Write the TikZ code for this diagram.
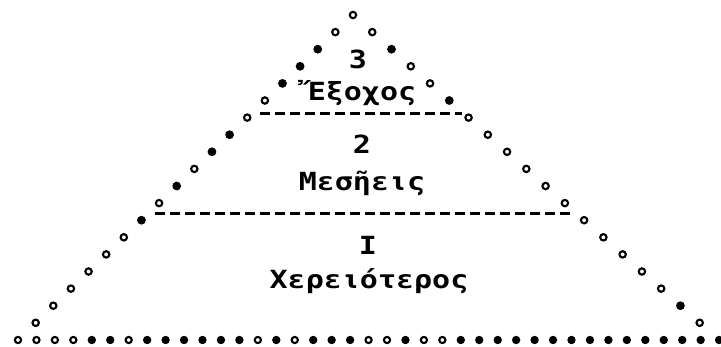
\documentclass[tikz,border=0pt]{standalone}
\usepackage{fontspec}
\newfontfamily\tw{DejaVu Sans Mono Bold}
\newcommand{\tws}[1]{\scalebox{1.2}[1]{#1}}
\begin{document}
\begin{tikzpicture}[x=1pt,y=-1pt,
  ringdot/.style={line width=2.1pt},
  lbl/.style={font=\tw\fontsize{25}{25}\selectfont, inner sep=0pt, anchor=base},
  sepline/.style={line width=3pt, dash pattern=on 10pt off 5pt}]
\useasboundingbox (0,0) rectangle (721,346);
% left side (apex included)
\foreach \f [count=\k from 0] in {0,0,1,1,1,0,0,1,1,0,1,0,1,0,0,0,0,0,0} {
  \pgfmathsetmacro\xx{353-17.63*\k}
  \pgfmathsetmacro\yy{15+17.1*\k}
  \ifnum\f=1 \fill (\xx,\yy) circle (4.4pt); \else \draw[ringdot] (\xx,\yy) circle (3.2pt); \fi
}
% right side
\foreach \f [count=\k from 1] in {0,1,0,0,1,0,0,0,0,0,0,0,0,0,0,0,1,0} {
  \pgfmathsetmacro\xx{353+19.26*\k}
  \pgfmathsetmacro\yy{15+17.1*\k}
  \ifnum\f=1 \fill (\xx,\yy) circle (4.4pt); \else \draw[ringdot] (\xx,\yy) circle (3.2pt); \fi
}
% base
\foreach \f [count=\k from 0] in {0,0,0,0,1,1,0,1,1,1,1,1,1,0,1,0,1,1,1,0,0,1,0,0,1,1,1,1,1,1,1,1,1,1,1,1,1,1,1} {
  \pgfmathsetmacro\xx{18+18.45*\k}
  \ifnum\f=1 \fill (\xx,340) circle (4.2pt); \else \draw[ringdot] (\xx,340) circle (3.1pt); \fi
}
% separators
\coordinate (a1) at (260,113);
\coordinate (b1) at (462,113);
\coordinate (a2) at (155,213);
\coordinate (b2) at (572,213);
\draw[sepline] (a1) -- (b1);
\draw[sepline] (a2) -- (b2);
% labels
\node[lbl] (n3) at (358,68) {\tws{3}};
\node[lbl] (ex) at (362,100) {\tws{Ἔξοχος}};
\node[lbl] (n2) at (362,153) {\tws{2}};
\node[lbl] (mes) at (362,190) {\tws{Μεσῆεις}};
\node[lbl] (n1) at (368,254) {\tws{I}};
\node[lbl] (xer) at (369,288) {\tws{Χερειότερος}};
\end{tikzpicture}
\end{document}
